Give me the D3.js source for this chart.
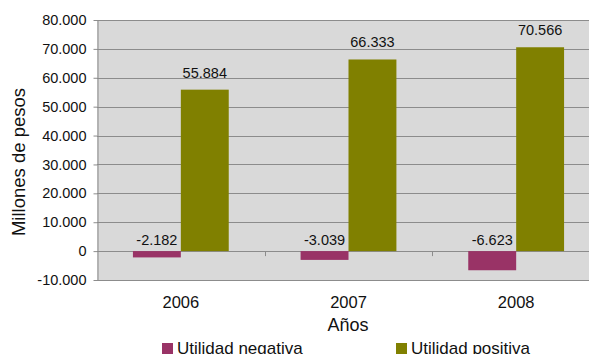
<!DOCTYPE html>
<html>
<head>
<meta charset="utf-8">
<script src="https://cdn.jsdelivr.net/npm/d3@7"></script>
<style>
  html, body { margin: 0; padding: 0; background: #fff; }
  svg { display: block; font-family: "Liberation Sans", Arial, sans-serif; }
</style>
</head>
<body>
<svg id="chart" width="589" height="354"></svg>
<script>
// Utilidad por año (millones de pesos)
const years = ["2006", "2007", "2008"];
const negativa = [-2182, -3039, -6623];
const positiva = [55884, 66333, 70566];
const seriesNames = ["Utilidad negativa", "Utilidad positiva"];
const seriesColors = ["#993366", "#808000"];
const yTicks = [-10000, 0, 10000, 20000, 30000, 40000, 50000, 60000, 70000, 80000];

const FONT = "'Liberation Sans', Arial, sans-serif";
const svg = d3.select("#chart");
const plot = { left: 97, right: 600, top: 20, bottom: 280 };

const fmt = v => d3.format(",")(v).replace(/,/g, ".").replace("−", "-");

const x = d3.scaleBand().domain(years).range([plot.left, plot.right]).paddingInner(0).paddingOuter(0);
const x1 = d3.scaleBand().domain([0, 1]).range([0, x.bandwidth()]).paddingInner(0).paddingOuter(0.75);
const y = d3.scaleLinear().domain([-10000, 80000]).range([plot.bottom, plot.top]);

// plot background
svg.append("rect")
  .attr("x", plot.left).attr("y", plot.top)
  .attr("width", plot.right - plot.left).attr("height", plot.bottom - plot.top)
  .attr("fill", "#d9d9d9");

// horizontal gridlines
svg.append("g").selectAll("line").data(yTicks).join("line")
  .attr("x1", plot.left).attr("x2", plot.right)
  .attr("y1", d => Math.round(y(d)) + 0.5).attr("y2", d => Math.round(y(d)) + 0.5)
  .attr("stroke", "#8c8c8c").attr("stroke-width", 1);

// y axis
const yAxis = svg.append("g")
  .attr("transform", `translate(${plot.left + 0.5},0)`)
  .call(d3.axisLeft(y).tickValues(yTicks).tickFormat(fmt).tickSize(4).tickSizeOuter(0));
yAxis.select(".domain").attr("stroke", "#8c8c8c");
yAxis.selectAll(".tick line").attr("stroke", "#8c8c8c");
yAxis.selectAll(".tick text")
  .attr("font-size", 14.5).attr("fill", "#111").attr("x", -11)
  .attr("font-family", FONT);

// category ticks along the zero line
svg.append("g").selectAll("line").data(years.slice(1)).join("line")
  .attr("x1", d => Math.round(x(d)) + 0.5).attr("x2", d => Math.round(x(d)) + 0.5)
  .attr("y1", y(0)).attr("y2", y(0) + 5)
  .attr("stroke", "#8c8c8c");

// bars
const data = years.map((yr, i) => ({ yr, vals: [negativa[i], positiva[i]] }));
const groups = svg.append("g").selectAll("g").data(data).join("g")
  .attr("transform", d => `translate(${x(d.yr)},0)`);

groups.selectAll("rect").data(d => d.vals.map((v, k) => ({ v, k }))).join("rect")
  .attr("x", d => x1(d.k))
  .attr("width", x1.bandwidth())
  .attr("y", d => y(Math.max(0, d.v)))
  .attr("height", d => Math.abs(y(d.v) - y(0)))
  .attr("fill", d => seriesColors[d.k]);

// value labels
groups.selectAll("text").data(d => d.vals.map((v, k) => ({ v, k }))).join("text")
  .attr("x", d => x1(d.k) + x1.bandwidth() / 2)
  .attr("y", d => d.v >= 0 ? y(d.v) - 12 : y(0) - 6)
  .attr("text-anchor", "middle")
  .attr("font-size", 14.5).attr("fill", "#111")
  .text(d => fmt(d.v));

// x tick labels
svg.append("g").selectAll("text").data(years).join("text")
  .attr("x", d => x(d) + x.bandwidth() / 2)
  .attr("y", 308)
  .attr("text-anchor", "middle")
  .attr("font-size", 16.5).attr("fill", "#111")
  .text(d => d);

// axis titles
svg.append("text")
  .attr("x", 348).attr("y", 331)
  .attr("text-anchor", "middle").attr("font-size", 18).attr("fill", "#111")
  .text("Años");

svg.append("text")
  .attr("transform", `translate(25,162) rotate(-90)`)
  .attr("text-anchor", "middle").attr("font-size", 18.5).attr("fill", "#111")
  .text("Millones de pesos");

// legend
const legendX = [162, 396];
const lg = svg.append("g").selectAll("g").data(seriesNames).join("g")
  .attr("transform", (d, i) => `translate(${legendX[i]},343)`);
lg.append("rect").attr("width", 11).attr("height", 11)
  .attr("fill", (d, i) => seriesColors[i]);
lg.append("text").attr("x", 15).attr("y", 11)
  .attr("font-size", 17).attr("fill", "#111")
  .text(d => d);
</script>
</body>
</html>
